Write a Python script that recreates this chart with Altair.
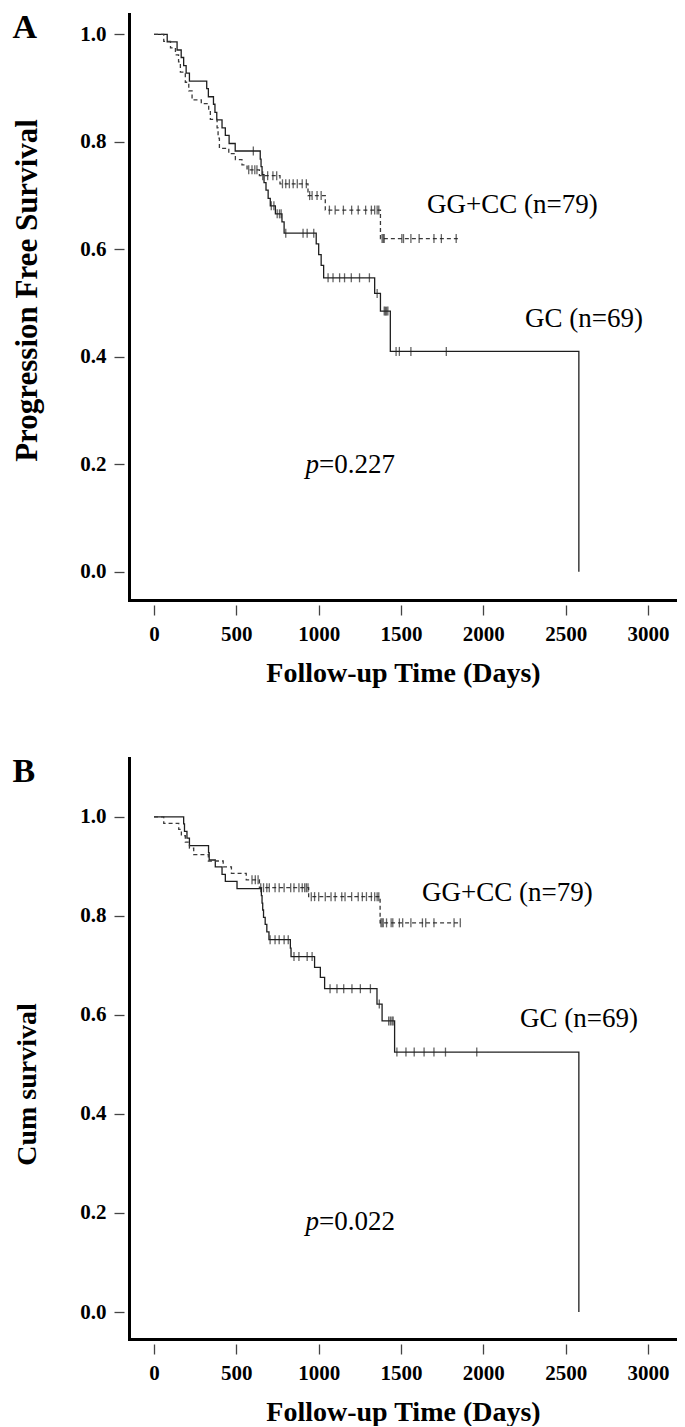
import altair as alt
import pandas as pd

SERIF = "Liberation Serif"

# ---------------- Panel A : Progression Free Survival ----------------
A_GC_TIME = [0, 80, 140, 165, 180, 195, 215, 320, 330, 361, 370, 381, 413, 433, 456, 493,
             645, 650, 656, 668, 680, 693, 706, 737, 777, 790, 985, 1000, 1015, 1030,
             1340, 1375, 1435, 2580]
A_GC_SURV = [1.0, 0.986, 0.971, 0.957, 0.942, 0.928, 0.913, 0.899, 0.884, 0.870, 0.855, 0.841,
             0.826, 0.812, 0.797, 0.783, 0.768, 0.754, 0.739, 0.724, 0.710, 0.695, 0.681, 0.666,
             0.651, 0.630, 0.610, 0.590, 0.570, 0.547, 0.518, 0.485, 0.410, 0.0]
A_GC_CENSOR = [603, 712, 728, 748, 762, 772, 800, 905, 930, 970, 1057, 1087, 1127, 1157, 1198,
               1248, 1308, 1355, 1398, 1405, 1412, 1420, 1470, 1490, 1560, 1775]

A_GG_TIME = [0, 59, 100, 130, 149, 160, 190, 211, 231, 287, 332, 342, 383, 389, 397, 454, 494,
             534, 565, 640, 765, 935, 1040, 1375, 1850]
A_GG_SURV = [1.0, 0.987, 0.975, 0.962, 0.949, 0.930, 0.911, 0.895, 0.878, 0.871, 0.861, 0.842,
             0.826, 0.807, 0.788, 0.778, 0.767, 0.757, 0.748, 0.737, 0.722, 0.700, 0.673, 0.620,
             0.620]
A_GG_CENSOR = [575, 595, 612, 625, 660, 690, 722, 745, 780, 800, 822, 845, 870, 900, 925, 945,
               960, 990, 1015, 1065, 1100, 1150, 1200, 1240, 1285, 1320, 1340, 1355, 1365, 1385,
               1392, 1398, 1505, 1515, 1560, 1610, 1700, 1745, 1835]

# ---------------- Panel B : Cumulative survival ----------------
B_GC_TIME = [0, 180, 185, 200, 215, 331, 335, 372, 413, 433, 504, 652, 656, 660, 665, 675, 685,
             698, 828, 832, 975, 1010, 1036, 1354, 1385, 1461, 2580]
B_GC_SURV = [1.0, 0.986, 0.971, 0.957, 0.942, 0.928, 0.913, 0.899, 0.884, 0.870, 0.855, 0.841,
             0.826, 0.812, 0.797, 0.783, 0.768, 0.752, 0.735, 0.718, 0.696, 0.676, 0.653, 0.622,
             0.588, 0.525, 0.0]
B_GC_CENSOR = [705, 735, 760, 790, 815, 850, 880, 930, 960, 1069, 1111, 1152, 1202, 1253, 1314,
               1368, 1425, 1435, 1445, 1452, 1475, 1530, 1580, 1640, 1700, 1770, 1960]

B_GG_TIME = [0, 59, 150, 166, 190, 215, 241, 330, 420, 470, 560, 640, 939, 1373, 1865]
B_GG_SURV = [1.0, 0.987, 0.975, 0.962, 0.949, 0.937, 0.924, 0.911, 0.899, 0.886, 0.873, 0.857,
             0.839, 0.786, 0.786]
B_GG_CENSOR = [595, 615, 632, 648, 665, 685, 700, 735, 760, 790, 830, 850, 880, 900, 915, 925,
               935, 955, 975, 1000, 1040, 1075, 1100, 1140, 1160, 1200, 1240, 1265, 1290, 1320,
               1340, 1355, 1365, 1378, 1385, 1392, 1412, 1440, 1450, 1490, 1510, 1560, 1630,
               1650, 1700, 1822, 1860]

GROUPS = ["GC", "GG+CC"]
CURVE_LABELS = ["GG+CC (n=79)", "GC (n=69)"]
X_TICKS = [0, 500, 1000, 1500, 2000, 2500, 3000]
Y_TICKS = [0.0, 0.2, 0.4, 0.6, 0.8, 1.0]
P_A = "=0.227"
P_B = "=0.022"

# annotation anchor positions (data units)
A_LABEL_POS = [(1658, 0.667), (2253, 0.456)]
A_P_POS = (1002, 0.184)
B_LABEL_POS = [(1627, 0.831), (2223, 0.576)]
B_P_POS = (1002, 0.166)

X_DOMAIN = [-152, 3176]
A_Y_DOMAIN = [-0.0527, 1.038]
B_Y_DOMAIN = [-0.0545, 1.119]


def step_value(times, survs, t):
    val = survs[0]
    for ti, si in zip(times, survs):
        if ti <= t:
            val = si
        else:
            break
    return val


def panel(gc_t, gc_s, gc_c, gg_t, gg_s, gg_c, ydom, height, ytitle, ytitle_size,
          ytitle_y, letter, label_pos, ptext, ppos):
    curves = pd.DataFrame({
        "t": gc_t + gg_t,
        "s": gc_s + gg_s,
        "grp": ["GC"] * len(gc_t) + ["GG+CC"] * len(gg_t),
    })
    cens = pd.DataFrame({
        "t": gc_c + gg_c,
        "s": [step_value(gc_t, gc_s, t) for t in gc_c] + [step_value(gg_t, gg_s, t) for t in gg_c],
    })
    xs = alt.Scale(domain=X_DOMAIN, nice=False, zero=False)
    ys = alt.Scale(domain=ydom, nice=False, zero=False)

    # frame axes: thick black lines only (the y one also carries the panel letter)
    frame_x = alt.Axis(orient="bottom", domain=True, domainColor="black", domainWidth=3,
                       domainCap="square", ticks=False, labels=False, grid=False, title=None)
    frame_y = alt.Axis(orient="left", domain=True, domainColor="black", domainWidth=3,
                       domainCap="square", ticks=False, labels=False, grid=False,
                       title=letter, titleAngle=0, titleX=-117, titleY=23, titleAlign="left",
                       titleBaseline="alphabetic", titleFont=SERIF, titleFontSize=34,
                       titleFontWeight="bold", titleColor="black")
    lab_x = alt.Axis(orient="bottom", domain=False, offset=5, values=X_TICKS, format="d",
                     tickSize=10, tickWidth=1.3, tickColor="#444", labelFont=SERIF,
                     labelFontWeight="bold", labelFontSize=21, labelColor="black",
                     labelPadding=8, labelFlush=False, labelOverlap=False, grid=False,
                     title="Follow-up Time (Days)", titleFont=SERIF, titleFontSize=28,
                     titleFontWeight="bold", titleColor="black", titleBaseline="alphabetic",
                     titleY=76)
    lab_y = alt.Axis(orient="left", domain=False, offset=5, values=Y_TICKS, format=".1f",
                     tickSize=10, tickWidth=1.3, tickColor="#444", labelFont=SERIF,
                     labelFontWeight="bold", labelFontSize=21, labelColor="black",
                     labelPadding=8, labelFlush=False, labelOverlap=False, grid=False,
                     title=ytitle, titleFont=SERIF, titleFontSize=ytitle_size,
                     titleFontWeight="bold", titleColor="black", titleBaseline="middle",
                     titleAlign="center", titleX=-97, titleY=ytitle_y)

    lines = alt.Chart(curves).mark_line(interpolate="step-after", strokeWidth=1.3).encode(
        x=alt.X("t:Q", scale=xs, axis=frame_x),
        y=alt.Y("s:Q", scale=ys, axis=frame_y),
        strokeDash=alt.StrokeDash("grp:N", scale=alt.Scale(domain=GROUPS, range=[[1, 0], [4, 3]]),
                                  legend=None),
        color=alt.Color("grp:N", scale=alt.Scale(domain=GROUPS, range=["#1e1e1e", "#3a3a3a"]),
                        legend=None),
    )
    marks = alt.Chart(cens).mark_tick(orient="vertical", size=9, thickness=1.3,
                                      color="#222").encode(
        x=alt.X("t:Q", scale=xs, axis=lab_x),
        y=alt.Y("s:Q", scale=ys, axis=lab_y),
    )
    ann_df = pd.DataFrame({"t": [p[0] for p in label_pos], "s": [p[1] for p in label_pos],
                           "label": CURVE_LABELS})
    ann = alt.Chart(ann_df).mark_text(align="left", baseline="alphabetic", font=SERIF,
                                      fontSize=27, color="black").encode(
        x=alt.X("t:Q", scale=xs, axis=None),
        y=alt.Y("s:Q", scale=ys, axis=None),
        text="label:N",
    )
    pdf = pd.DataFrame({"t": [ppos[0]], "s": [ppos[1]], "p": ["p"], "rest": [ptext]})
    p1 = alt.Chart(pdf).mark_text(align="right", baseline="alphabetic", font=SERIF,
                                  fontSize=27, fontStyle="italic", color="black").encode(
        x=alt.X("t:Q", scale=xs, axis=None),
        y=alt.Y("s:Q", scale=ys, axis=None),
        text="p:N",
    )
    p2 = alt.Chart(pdf).mark_text(align="left", baseline="alphabetic", font=SERIF,
                                  fontSize=27, color="black").encode(
        x=alt.X("t:Q", scale=xs, axis=None),
        y=alt.Y("s:Q", scale=ys, axis=None),
        text="rest:N",
    )
    return alt.layer(lines, marks, ann, p1, p2).resolve_axis(
        x="independent", y="independent"
    ).properties(width=548, height=height)


chart_a = panel(A_GC_TIME, A_GC_SURV, A_GC_CENSOR, A_GG_TIME, A_GG_SURV, A_GG_CENSOR,
                A_Y_DOMAIN, 586, "Progression Free Survival", 31, 276, "A",
                A_LABEL_POS, P_A, A_P_POS)
chart_b = panel(B_GC_TIME, B_GC_SURV, B_GC_CENSOR, B_GG_TIME, B_GG_SURV, B_GG_CENSOR,
                B_Y_DOMAIN, 581, "Cum survival", 28, 326, "B",
                B_LABEL_POS, P_B, B_P_POS)

chart = alt.vconcat(chart_a, chart_b, spacing=67, background="white",
                    padding={"left": 3, "top": 2, "right": 0, "bottom": 0}
                    ).configure_view(stroke=None)

chart.save("out.html", embed_options={"renderer": "svg", "actions": False})
